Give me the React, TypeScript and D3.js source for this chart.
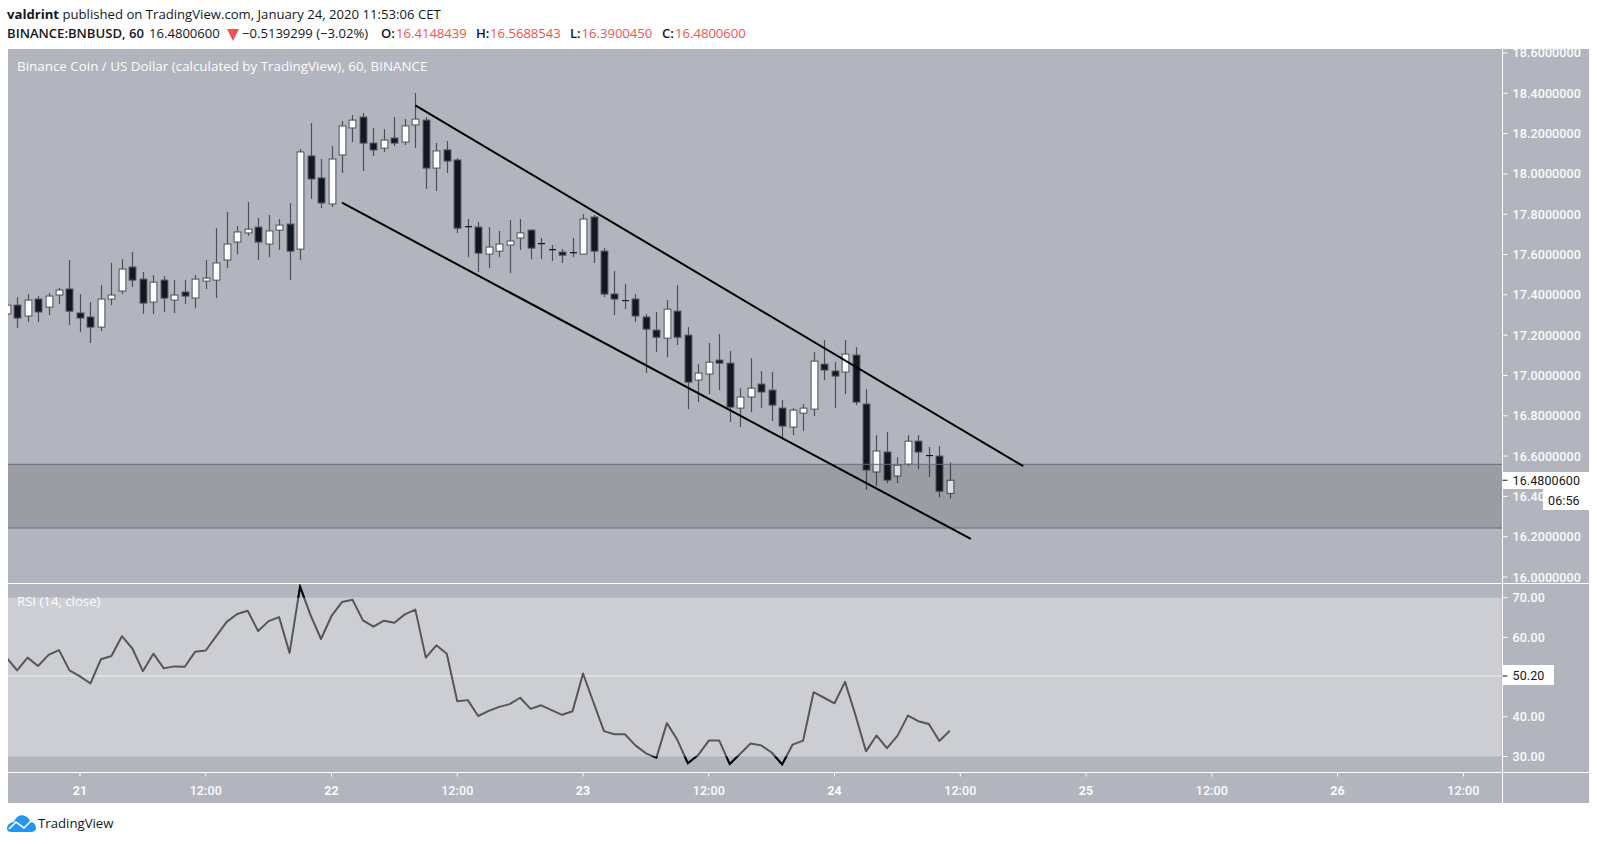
import * as d3 from "d3";

// hourly candles, first one is Jan 20 17:00 UTC
const START_HOUR = Date.UTC(2020, 0, 20, 17);
const HOUR = 3600000;

const opens = [
  17.305, 17.349, 17.295, 17.379, 17.339, 17.399, 17.429, 17.31, 17.29, 17.24, 17.379, 17.419, 17.538,
  17.478, 17.364, 17.473, 17.374, 17.414, 17.384, 17.468, 17.473, 17.573, 17.662, 17.707, 17.736, 17.652,
  17.721, 17.751, 17.627, 18.089, 17.98, 17.851, 18.094, 18.228, 18.282, 18.153, 18.128, 18.178, 18.158,
  18.243, 18.267, 18.029, 18.119, 18.069, 17.741, 17.736, 17.602, 17.617, 17.647, 17.682, 17.721, 17.657,
  17.627, 17.612, 17.607, 17.602, 17.786, 17.617, 17.404, 17.374, 17.379, 17.29, 17.225, 17.185, 17.319,
  17.2, 16.977, 17.007, 17.076, 17.061, 16.838, 16.893, 16.957, 16.927, 16.838, 16.744, 16.813, 16.833,
  17.056, 17.022, 17.017, 17.101, 16.858, 16.521, 16.62, 16.501, 16.56, 16.674, 16.605, 16.6, 16.4148,
];
const highs = [
  17.374, 17.389, 17.404, 17.394, 17.409, 17.434, 17.573, 17.404, 17.364, 17.448, 17.558, 17.577, 17.612,
  17.513, 17.498, 17.493, 17.473, 17.473, 17.498, 17.573, 17.731, 17.811, 17.741, 17.86, 17.781, 17.796,
  17.776, 17.856, 18.124, 18.253, 18.074, 18.138, 18.262, 18.292, 18.302, 18.228, 18.223, 18.282, 18.272,
  18.401, 18.282, 18.153, 18.163, 18.079, 17.776, 17.761, 17.736, 17.717, 17.771, 17.776, 17.726, 17.682,
  17.647, 17.627, 17.682, 17.801, 17.796, 17.632, 17.518, 17.453, 17.404, 17.305, 17.315, 17.374, 17.448,
  17.24, 17.056, 17.161, 17.206, 17.121, 16.937, 17.086, 17.022, 17.017, 16.878, 16.838, 16.858, 17.116,
  17.176, 17.066, 17.176, 17.141, 16.932, 16.704, 16.719, 16.595, 16.704, 16.704, 16.645, 16.65, 16.5689,
];
const lows = [
  17.295, 17.235, 17.265, 17.265, 17.3, 17.354, 17.25, 17.215, 17.161, 17.22, 17.349, 17.404, 17.439,
  17.305, 17.305, 17.315, 17.31, 17.354, 17.334, 17.429, 17.384, 17.533, 17.602, 17.692, 17.573, 17.587,
  17.622, 17.473, 17.573, 17.875, 17.831, 17.836, 18.004, 18.158, 18.014, 18.089, 18.109, 18.138, 18.143,
  18.128, 17.925, 17.915, 18.004, 17.707, 17.587, 17.513, 17.533, 17.587, 17.508, 17.622, 17.577, 17.577,
  17.568, 17.558, 17.587, 17.602, 17.558, 17.389, 17.3, 17.329, 17.265, 17.012, 17.116, 17.091, 17.151,
  16.833, 16.868, 16.908, 16.927, 16.769, 16.744, 16.818, 16.838, 16.774, 16.689, 16.704, 16.724, 16.798,
  16.977, 16.838, 16.908, 16.853, 16.432, 16.451, 16.466, 16.466, 16.55, 16.535, 16.496, 16.396, 16.39,
];
const closes = [
  17.349, 17.285, 17.374, 17.315, 17.394, 17.424, 17.319, 17.285, 17.24, 17.379, 17.399, 17.528, 17.473,
  17.359, 17.463, 17.384, 17.399, 17.394, 17.478, 17.483, 17.558, 17.652, 17.712, 17.726, 17.662, 17.717,
  17.746, 17.617, 18.109, 17.975, 17.856, 18.074, 18.238, 18.267, 18.153, 18.119, 18.168, 18.153, 18.238,
  18.272, 18.029, 18.114, 18.064, 17.731, 17.736, 17.607, 17.637, 17.652, 17.667, 17.707, 17.632, 17.652,
  17.622, 17.597, 17.612, 17.776, 17.617, 17.404, 17.379, 17.369, 17.295, 17.23, 17.19, 17.329, 17.19,
  16.967, 17.012, 17.066, 17.061, 16.843, 16.893, 16.937, 16.918, 16.853, 16.749, 16.828, 16.838, 17.071,
  17.027, 16.997, 17.106, 16.868, 16.531, 16.625, 16.481, 16.555, 16.674, 16.62, 16.6, 16.426, 16.4801,
];
const rsiValues = [
  54.9, 51.7, 54.9, 52.8, 55.6, 56.8, 51.7, 50.2, 48.4, 54.5, 55.3, 60.3, 57.2, 51.5, 55.9, 52.2, 52.7,
  52.6, 56.4, 56.7, 60.3, 63.9, 65.9, 66.7, 61.6, 64.1, 65.1, 56.1, 72.8, 65.6, 59.6, 65.4, 68.9, 69.5,
  64.3, 62.7, 64.2, 63.7, 65.8, 67.0, 54.9, 58.0, 55.9, 43.9, 44.2, 40.2, 41.5, 42.5, 43.2, 44.8, 42.0,
  42.9, 41.7, 40.5, 41.4, 50.9, 43.6, 36.4, 35.6, 35.6, 32.8, 30.8, 29.7, 38.4, 34.2, 28.3, 30.4, 34.0,
  34.0, 28.1, 30.7, 33.3, 32.8, 31.0, 28.0, 33.0, 34.0, 46.2, 44.8, 43.4, 48.8, 40.4, 31.3, 35.3, 32.1,
  35.2, 40.3, 38.9, 38.2, 33.9, 36.5,
];

const priceTicks = [18.6, 18.4, 18.2, 18.0, 17.8, 17.6, 17.4, 17.2, 17.0, 16.8, 16.6, 16.4, 16.2, 16.0];
const rsiTicks = [70, 60, 40, 30];
const timeTicks = [
  { t: Date.UTC(2020, 0, 21, 0), label: "21" },
  { t: Date.UTC(2020, 0, 21, 12), label: "12:00" },
  { t: Date.UTC(2020, 0, 22, 0), label: "22" },
  { t: Date.UTC(2020, 0, 22, 12), label: "12:00" },
  { t: Date.UTC(2020, 0, 23, 0), label: "23" },
  { t: Date.UTC(2020, 0, 23, 12), label: "12:00" },
  { t: Date.UTC(2020, 0, 24, 0), label: "24" },
  { t: Date.UTC(2020, 0, 24, 12), label: "12:00" },
  { t: Date.UTC(2020, 0, 25, 0), label: "25" },
  { t: Date.UTC(2020, 0, 25, 12), label: "12:00" },
  { t: Date.UTC(2020, 0, 26, 0), label: "26" },
  { t: Date.UTC(2020, 0, 26, 12), label: "12:00" },
];

// support band and the two channel lines: [hours after Jan 22 00:00, price]
const bandPrices = [16.559, 16.243];
const upperChannel = [[8, 18.34], [66, 16.55]];
const lowerChannel = [[1, 17.857], [61, 16.189]];

const BG = "#b2b5be";
const LABEL = "#fcfcfd";
const DARK = "#131722";
const EDGE = "#4c4f5a";
const FONT = "'Open Sans', sans-serif";
const AXIS_FONT = "Roboto, sans-serif";

const paneLeft = 8;
const paneRight = 1589;
const axisX = 1502.5;
const paneTop = 49;
const mainBottom = 583.5;
const rsiBottom = 772.5;
const paneBottom = 803;

const day22 = Date.UTC(2020, 0, 22);
const x = d3.scaleUtc().domain([day22, Date.UTC(2020, 0, 26)]).range([331.5, 1337.6]);
const y = d3.scaleLinear().domain([16, 18.4]).range([577, 93.3]);
const yRsi = d3.scaleLinear().domain([30, 70]).range([756.5, 597.7]);

const hourX = (i: number) => x(START_HOUR + i * HOUR);
const rsiLine = d3
  .line<number>()
  .x((_, i) => hourX(i))
  .y((d) => yRsi(d));

const channelPath = (pts: number[][]) =>
  d3
    .line<number[]>()
    .x((d) => x(day22 + d[0] * HOUR))
    .y((d) => y(d[1]))(pts) as string;

export default function App() {
  const rsiPath = rsiLine(rsiValues) as string;
  return (
    <svg
      width={1597}
      height={844}
      style={{ position: "absolute", left: 0, top: 0, background: "#fff" }}
    >
      <defs>
        <clipPath id="main">
          <rect x={paneLeft} y={paneTop} width={axisX - paneLeft} height={mainBottom - paneTop} />
        </clipPath>
        <clipPath id="rsi">
          <rect x={paneLeft} y={mainBottom} width={axisX - paneLeft} height={rsiBottom - mainBottom} />
        </clipPath>
        <clipPath id="outside">
          <rect x={paneLeft} y={mainBottom} width={axisX - paneLeft} height={yRsi(70) - mainBottom} />
          <rect x={paneLeft} y={yRsi(30)} width={axisX - paneLeft} height={rsiBottom - yRsi(30)} />
        </clipPath>
      </defs>

      {/* header */}
      <text x={7} y={19} fontFamily={FONT} fontSize={13.15} fill="#131722">
        <tspan fontWeight={700}>valdrint</tspan> published on TradingView.com, January 24, 2020 11:53:06 CET
      </text>
      <g fontFamily={FONT} fontSize={13.1} fill="#131722">
        <text x={7} y={38} fontWeight={600}>BINANCE:BNBUSD, 60</text>
        <text x={149} y={38}>16.4800600</text>
        <path d="M227,29 L239,29 L233,41 Z" fill="#ef5350" />
        <text x={242} y={38}>−0.5139299 (−3.02%)</text>
        <text x={381} y={38} fontWeight={600}>O:</text>
        <text x={396} y={38} fill="#ef5350">16.4148439</text>
        <text x={476} y={38} fontWeight={600}>H:</text>
        <text x={490} y={38} fill="#ef5350">16.5688543</text>
        <text x={570} y={38} fontWeight={600}>L:</text>
        <text x={581.5} y={38} fill="#ef5350">16.3900450</text>
        <text x={662} y={38} fontWeight={600}>C:</text>
        <text x={675} y={38} fill="#ef5350">16.4800600</text>
      </g>

      <rect x={paneLeft} y={paneTop} width={paneRight - paneLeft} height={paneBottom - paneTop} fill={BG} />

      <text x={17} y={71} fontFamily={FONT} fontSize={13.4} fill={LABEL}>
        Binance Coin / US Dollar (calculated by TradingView), 60, BINANCE
      </text>

      {/* candles */}
      <g clipPath="url(#main)">
        {opens.map((o, i) => {
          const cx = Math.round(hourX(i)) + 0.5;
          const up = closes[i] >= o;
          const top = y(Math.max(o, closes[i]));
          const bot = y(Math.min(o, closes[i]));
          const thin = bot - top < 2;
          return (
            <g key={i}>
              <line x1={cx} x2={cx} y1={y(highs[i])} y2={y(lows[i])} stroke={EDGE} strokeWidth={1.2} />
              {thin ? (
                <line x1={cx - 3.5} x2={cx + 3.5} y1={top + 0.5} y2={top + 0.5} stroke={DARK} strokeWidth={1.2} />
              ) : (
                <rect
                  x={cx - 3.4}
                  y={top}
                  width={6.8}
                  height={bot - top}
                  fill={up ? "#fff" : DARK}
                  stroke={EDGE}
                  strokeWidth={1}
                />
              )}
            </g>
          );
        })}

        {/* support band goes over the candles */}
        <rect
          x={paneLeft}
          y={y(bandPrices[0])}
          width={axisX - paneLeft}
          height={y(bandPrices[1]) - y(bandPrices[0])}
          fill="rgba(0,0,0,0.13)"
        />
        {bandPrices.map((p) => (
          <line key={p} x1={paneLeft} x2={axisX} y1={y(p)} y2={y(p)} stroke="#6a6c74" strokeWidth={1} />
        ))}

        <path d={channelPath(upperChannel)} fill="none" stroke="#000" strokeWidth={2} />
        <path d={channelPath(lowerChannel)} fill="none" stroke="#000" strokeWidth={2} />
      </g>

      {/* RSI pane */}
      <rect x={paneLeft} y={yRsi(70)} width={axisX - paneLeft - 1} height={yRsi(30) - yRsi(70)} fill="#cdced3" />
      <line x1={paneLeft} x2={axisX} y1={676} y2={676} stroke="#eeeff1" strokeWidth={1} />
      <text x={17} y={606} fontFamily={FONT} fontSize={13.2} fill={LABEL}>
        RSI (14, close)
      </text>
      <g clipPath="url(#rsi)">
        <path d={rsiPath} fill="none" stroke="#55565a" strokeWidth={2} strokeLinejoin="round" />
      </g>
      <path d={rsiPath} fill="none" stroke="#000" strokeWidth={2} clipPath="url(#outside)" />

      {/* pane separators */}
      <line x1={paneLeft} x2={paneRight} y1={mainBottom} y2={mainBottom} stroke="#fff" />
      <line x1={paneLeft} x2={paneRight} y1={rsiBottom} y2={rsiBottom} stroke="#fff" />
      <line x1={axisX} x2={axisX} y1={paneTop} y2={paneBottom} stroke="#fff" />

      {/* price axis */}
      <g fontFamily={AXIS_FONT} fontSize={12.5} fontWeight={500} fill={LABEL} letterSpacing={0.1}>
        {priceTicks.map((p) => (
          <g key={p}>
            <line x1={axisX} x2={axisX + 5} y1={y(p)} y2={y(p)} stroke="#fff" />
            <text x={1512.5} y={y(p)} dy="0.36em">{p.toFixed(7)}</text>
          </g>
        ))}
        {rsiTicks.map((v) => (
          <g key={v}>
            <line x1={axisX} x2={axisX + 5} y1={yRsi(v)} y2={yRsi(v)} stroke="#fff" />
            <text x={1512.5} y={yRsi(v)} dy="0.36em">{v.toFixed(2)}</text>
          </g>
        ))}
      </g>

      {/* last price and countdown */}
      <g fontFamily={AXIS_FONT} fontSize={12.5} fill="#131722" letterSpacing={0.1}>
        <rect x={axisX + 0.5} y={472} width={paneRight - axisX - 0.5} height={17} fill="#fff" />
        <line x1={axisX} x2={axisX + 5} y1={y(16.4801)} y2={y(16.4801)} stroke="#131722" />
        <text x={1512.5} y={480.5} dy="0.36em">16.4800600</text>
        <rect x={1543} y={489} width={paneRight - 1543} height={21} fill="#fff" />
        <text x={1548} y={500} dy="0.36em">06:56</text>
        <rect x={axisX + 0.5} y={665} width={51} height={20} fill="#fff" />
        <line x1={axisX} x2={axisX + 5} y1={676} y2={676} stroke="#131722" />
        <text x={1512.5} y={675.5} dy="0.36em">50.20</text>
      </g>

      {/* time axis */}
      <g fontFamily={AXIS_FONT} fontSize={12.5} fill={LABEL} textAnchor="middle" letterSpacing={0.1}>
        {timeTicks.map((d) => (
          <g key={d.t}>
            <line x1={x(d.t)} x2={x(d.t)} y1={rsiBottom} y2={rsiBottom + 4} stroke="#fff" />
            <text x={x(d.t)} y={790} dy="0.36em" fontWeight={d.label === "12:00" ? 500 : 700}>
              {d.label}
            </text>
          </g>
        ))}
      </g>

      {/* logo */}
      <path
        d="M7,829 C7,824 11,822 14,822 C16,816 21,814 25,816 C28,817 30,820 30,822 C34,822 36,825 36,828 C36,831 33,832 31,832 L11,832 C9,832 7,831 7,829 Z"
        fill="#2196f3"
      />
      <path d="M9,829 L16,822 L24,828 L33,819" fill="none" stroke="#fff" strokeWidth={1.6} />
      <text x={38} y={828} fontFamily={FONT} fontSize={13.2} fill="#131722">
        TradingView
      </text>
    </svg>
  );
}
